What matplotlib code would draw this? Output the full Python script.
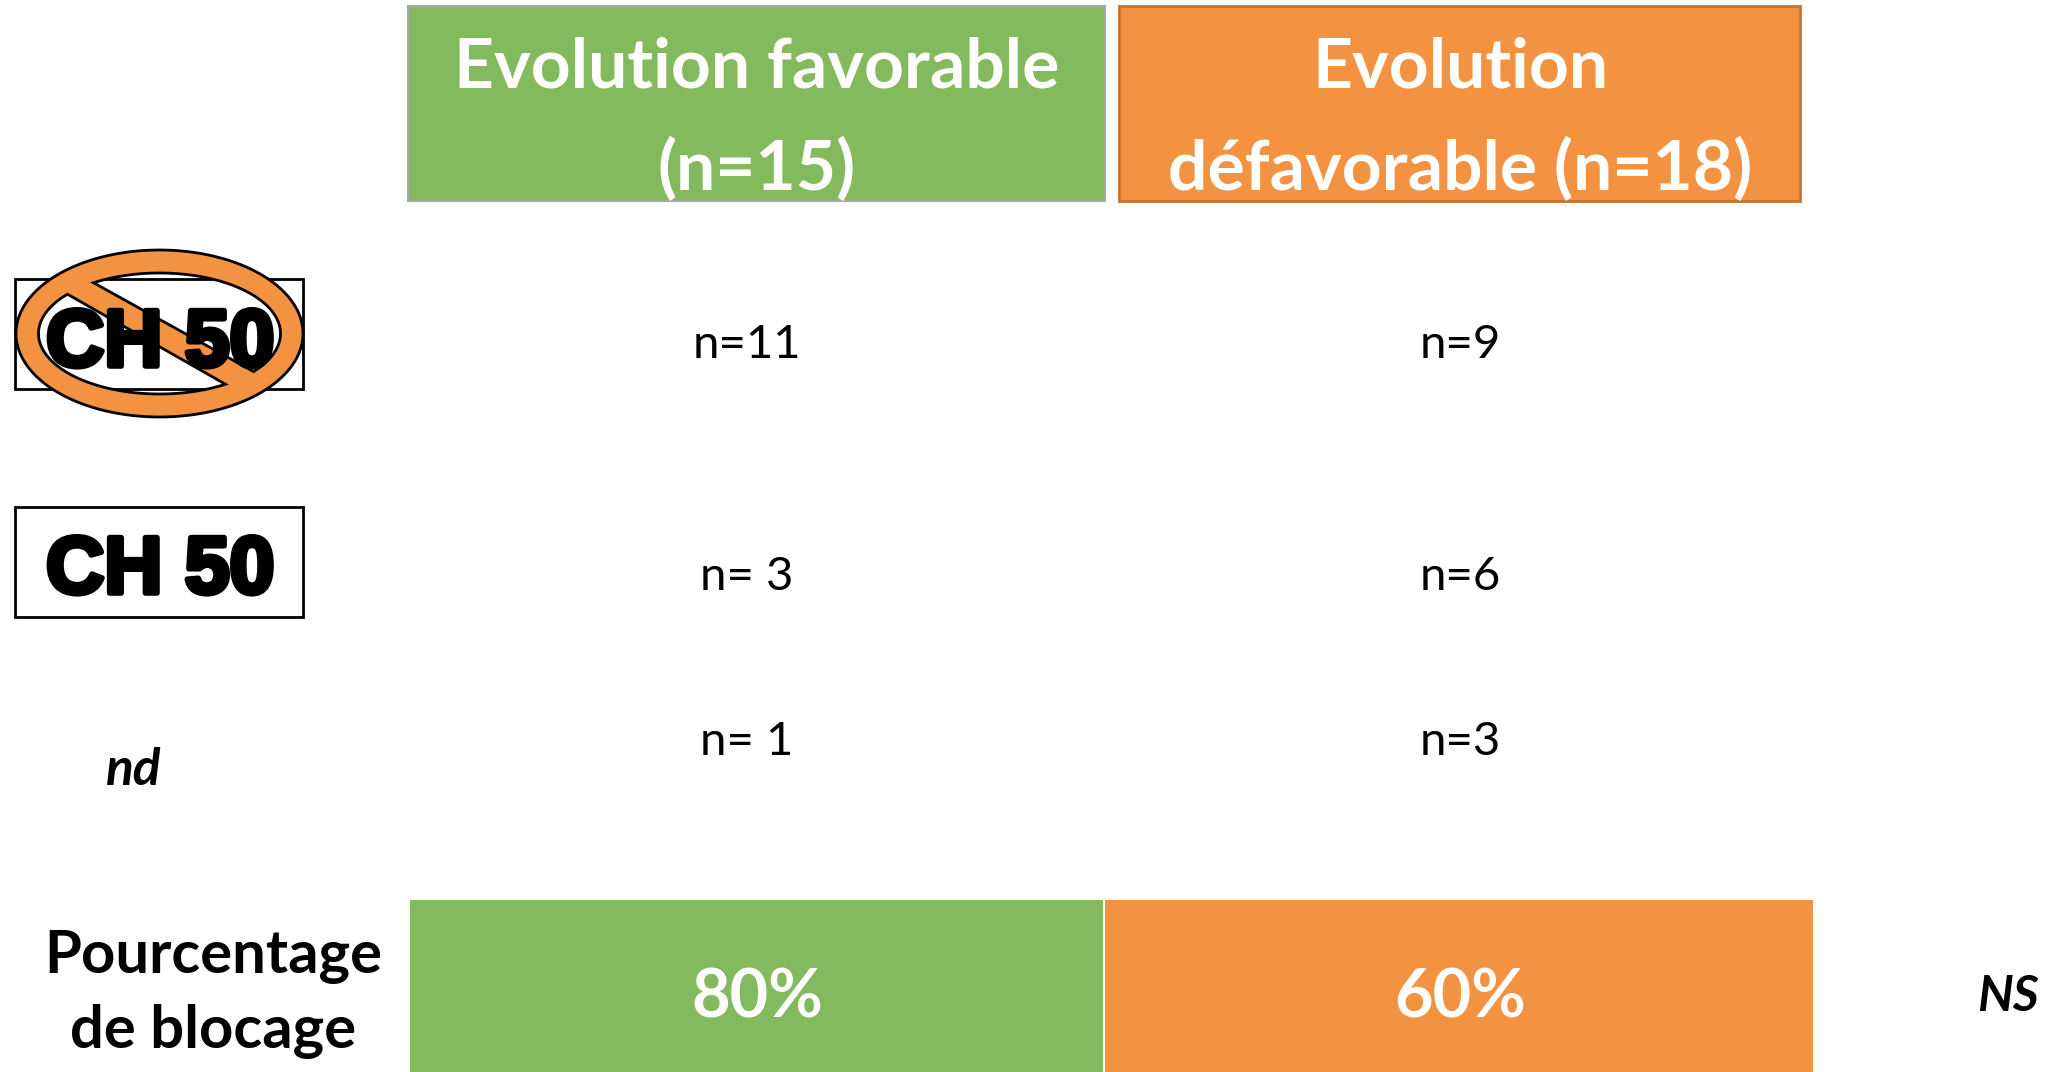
import numpy as np
import matplotlib
matplotlib.use("Agg")
import matplotlib.pyplot as plt
import matplotlib.patheffects as pe
from matplotlib.patches import Rectangle, PathPatch
from matplotlib.path import Path

GREEN = '#84BA5E'
ORANGE = '#F39241'
ORANGE_EDGE = '#C5712F'

header_lines = [["Evolution favorable", "(n=15)"], ["Evolution", "défavorable (n=18)"]]
absent_counts = ["n=11", "n=9"]
present_counts = ["n= 3", "n=6"]
nd_counts = ["n= 1", "n=3"]
blocking_pct = [80, 60]
row_label = ["Pourcentage", "de blocage"]
marker_label = "CH 50"

col_x = [757, 1460]

plt.rcParams['font.family'] = ['Lato', 'DejaVu Sans']


def ellipse_points(cx, cy, rx, ry, n=240):
    t = np.linspace(0, 2 * np.pi, n, endpoint=False)
    return np.column_stack([cx + rx * np.cos(t), cy + ry * np.sin(t)])


def side_of(pts, a, b):
    return (b[0] - a[0]) * (pts[:, 1] - a[1]) - (b[1] - a[1]) * (pts[:, 0] - a[0])


def closed(pts):
    verts = np.vstack([pts, pts[0]])
    codes = [Path.MOVETO] + [Path.LINETO] * (len(pts) - 1) + [Path.CLOSEPOLY]
    return Path(verts, codes)


def no_sign():
    # ring with a slash: outer ellipse minus the two parts of the inner one
    outer = ellipse_points(159.5, 333.5, 143.5, 83.5)
    inner = ellipse_points(159.5, 333.5, 121, 60.5)
    top_a, top_b = (92, 283), (252, 373)
    low_a, low_b = (68, 294), (228, 384)
    parts = [closed(outer)]
    for mask in [side_of(inner, top_a, top_b) < 0, side_of(inner, low_a, low_b) > 0]:
        start = np.where(mask & ~np.roll(mask, 1))[0][0]
        hole = np.roll(inner, -start, axis=0)[:mask.sum()]
        parts.append(closed(hole[::-1]))
    return Path.make_compound_path(*parts)


def ch50(ax, y):
    ax.text(160, y, marker_label, family='Liberation Sans', weight='bold', fontsize=58,
            ha='center', va='baseline', color='black',
            path_effects=[pe.withStroke(linewidth=4, foreground='black')])


fig = plt.figure(figsize=(20.72, 10.72), dpi=100)
ax = fig.add_axes([0, 0, 1, 1])
ax.set_xlim(0, 2072)
ax.set_ylim(1072, 0)
ax.axis('off')

# header cells
ax.add_patch(Rectangle((408, 6), 697, 195, fc=GREEN, ec='#A4AAA0', lw=1.5))
ax.add_patch(Rectangle((1119, 6), 681, 195, fc=ORANGE, ec=ORANGE_EDGE, lw=2))
for x, lines in zip(col_x, header_lines):
    ax.text(x, 88, lines[0], color='white', fontsize=50, weight='bold', ha='center', va='baseline')
    ax.text(x, 190, lines[1], color='white', fontsize=50, weight='bold', ha='center', va='baseline')

# row markers
for y0 in [279, 507]:
    ax.add_patch(Rectangle((15, y0), 288, 110, fc='white', ec='black', lw=2))
ch50(ax, 366)
ch50(ax, 593)
ax.add_patch(PathPatch(no_sign(), fc=ORANGE, ec='black', lw=2))
ax.text(134, 785, "nd", fontsize=37, weight='bold', style='italic', ha='center', va='baseline')

# counts per group
for i, x in enumerate(col_x):
    ax.text(x - (0 if i else 10), 358, absent_counts[i], fontsize=34, ha='center', va='baseline')
    ax.text(x - (0 if i else 10), 590, present_counts[i], fontsize=34, ha='center', va='baseline')
    ax.text(x - (0 if i else 10), 755, nd_counts[i], fontsize=34, ha='center', va='baseline')

# bottom row
ax.add_patch(Rectangle((410, 900), 693, 172, fc=GREEN, ec='none'))
ax.add_patch(Rectangle((1105, 900), 708, 172, fc=ORANGE, ec='none'))
for x, pct in zip(col_x, blocking_pct):
    ax.text(x, 1018, f"{pct}%", color='white', fontsize=48, weight='bold', ha='center', va='baseline')
ax.text(213, 973, row_label[0], fontsize=43, weight='bold', ha='center', va='baseline')
ax.text(213, 1048, row_label[1], fontsize=43, weight='bold', ha='center', va='baseline')
ax.text(2008, 1011, "NS", fontsize=36, weight='bold', style='italic', ha='center', va='baseline')

fig.savefig('out.png', dpi=100, facecolor='white')
